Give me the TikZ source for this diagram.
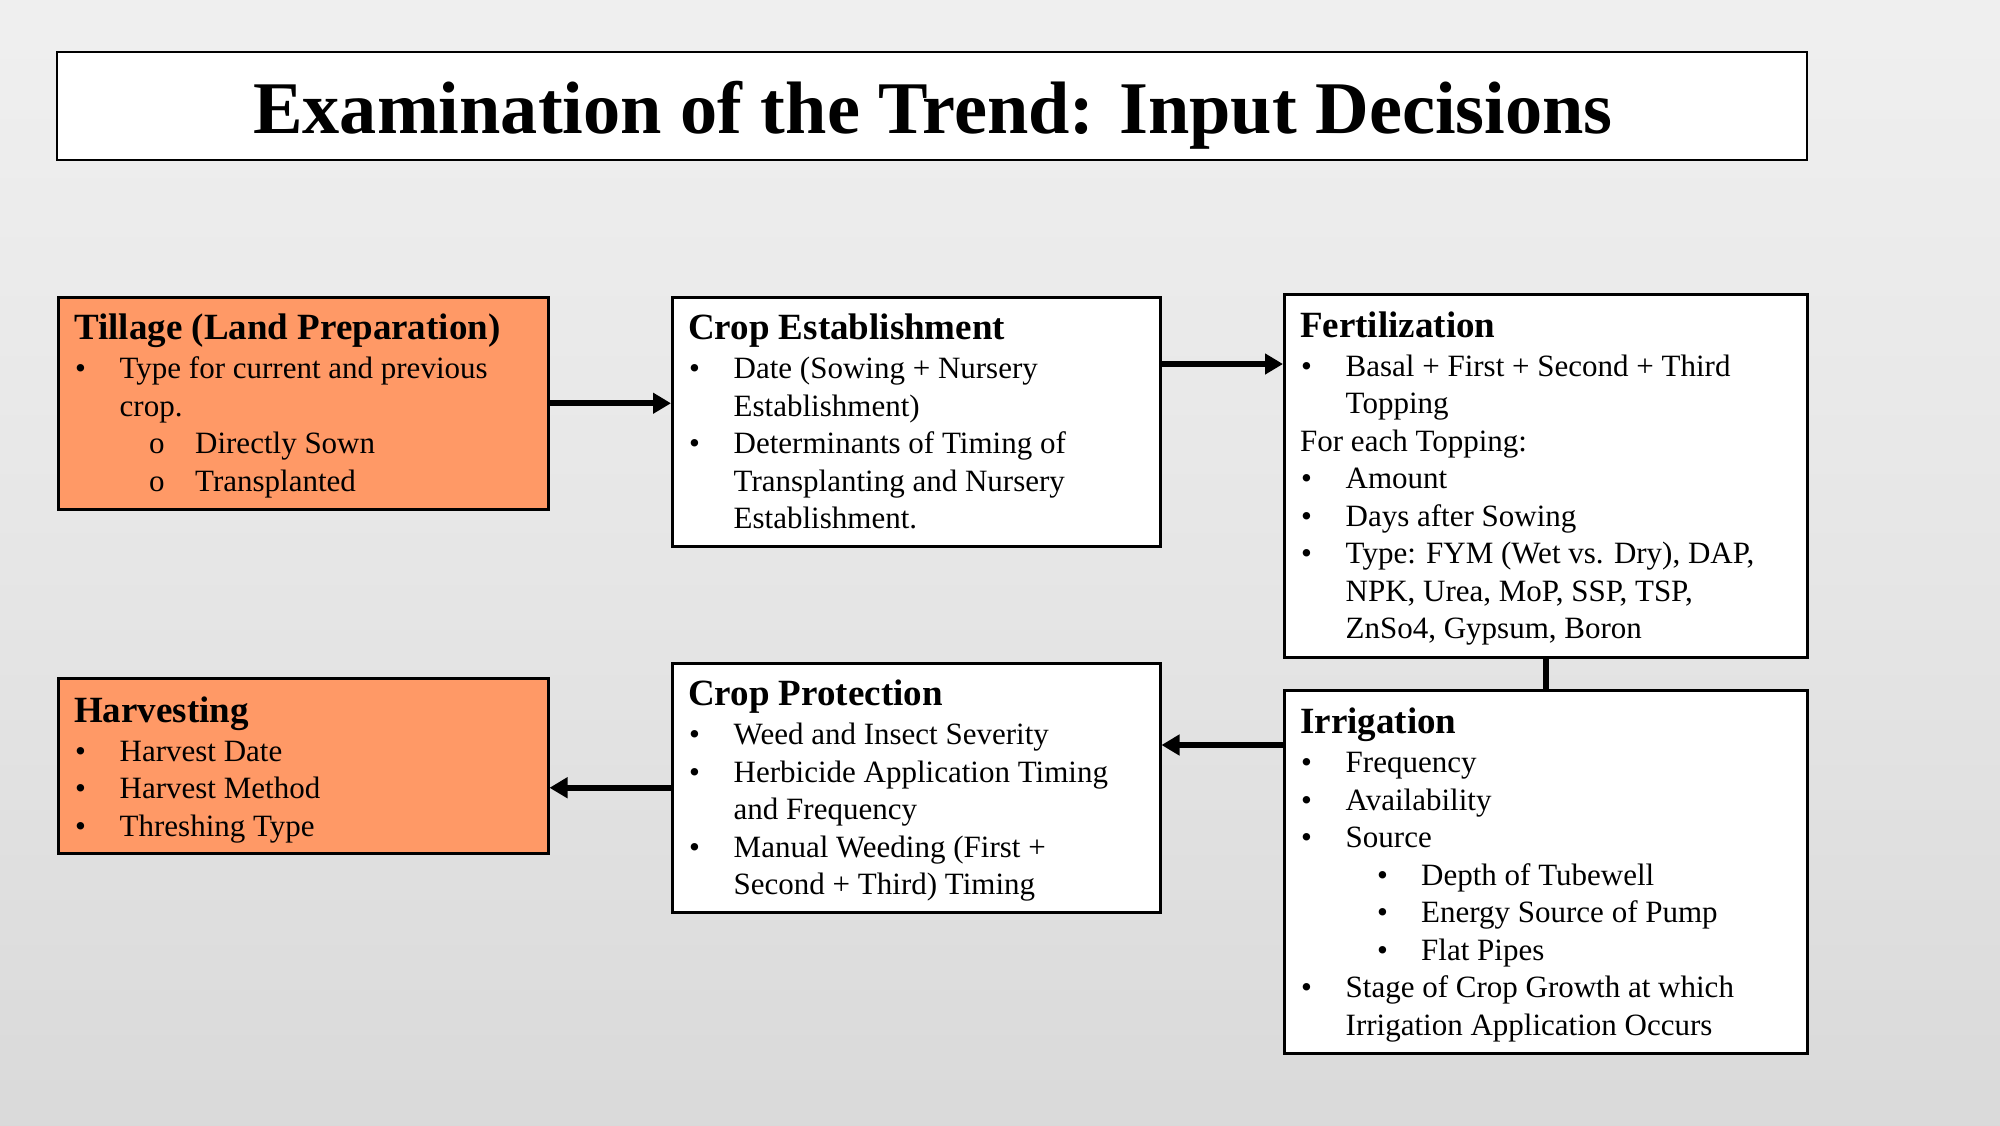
\documentclass[tikz,border=0pt]{standalone}
\usepackage{fontspec}
\setmainfont{Liberation Serif}
\usetikzlibrary{arrows.meta}
\definecolor{orangebox}{HTML}{FF9966}
\definecolor{bgA}{HTML}{E0E0E0}
\definecolor{bgB}{HTML}{D7D7D7}
\definecolor{bgC}{HTML}{E6E6E6}
\definecolor{bgD}{HTML}{F9F9F9}
\pgfdeclareverticalshading{slidebg}{100bp}{color(0bp)=(bgA); color(12bp)=(bgB); color(20bp)=(bgB); color(50bp)=(bgC); color(100bp)=(bgD)}
\newcommand\boxhead[1]{{\fontsize{37}{37}\selectfont\bfseries #1\par}\vspace{1.5pt}}
\newcommand\bitem[1]{\makebox[45.5pt][l]{\hspace{1pt}\textbullet}#1\par}
\newcommand\bcont[1]{\hspace*{45.5pt}#1\par}
\newcommand\bsubo[1]{\hspace*{75pt}\makebox[46pt][l]{o}#1\par}
\newcommand\bsubb[1]{\hspace*{77pt}\makebox[44pt][l]{\textbullet}#1\par}
\newcommand\bplain[1]{#1\par}
\newcommand\cardtext[1]{\parbox[t]{500pt}{\fontsize{31}{37.5}\selectfont\setlength\parindent{0pt}#1}}
\tikzset{
  card/.style={draw, line width=2.5pt, fill=white, anchor=north west, inner sep=0pt},
  orangecard/.style={card, fill=orangebox},
  txt/.style={anchor=base west, inner sep=0pt},
  arr/.style={line width=6pt, -{Triangle[length=18pt,width=20pt]}},
  link/.style={line width=6pt}
}
\begin{document}
\begin{tikzpicture}[x=1pt,y=-1pt]
\shade[shading=slidebg] (0,0) rectangle (2000,1125);
\useasboundingbox (0,0) rectangle (2000,1125);

% title
\node[draw, line width=2.5pt, fill=white, minimum width=1750pt, minimum height=108pt, inner sep=0pt] (title) at (932,106) {};
\node[anchor=base, inner sep=0pt] (titletext) at (933,133) {\fontsize{74.3}{80}\selectfont\bfseries Examination of the Trend: Input Decisions};

% boxes
\node[orangecard, minimum width=490pt, minimum height=212pt] (till) at (57,296) {};
\node[card, minimum width=488pt, minimum height=249pt] (ce) at (671,296) {};
\node[card, minimum width=523pt, minimum height=363pt] (fert) at (1283,293) {};
\node[card, minimum width=523pt, minimum height=363pt] (irr) at (1283,689) {};
\node[card, minimum width=488pt, minimum height=249pt] (cp) at (671,662) {};
\node[orangecard, minimum width=490pt, minimum height=175pt] (harv) at (57,677) {};

% texts
\node[txt] (tillT) at (74,339.5) {\cardtext{%
\boxhead{Tillage (Land Preparation)}
\bitem{Type for current and previous}
\bcont{crop.}
\bsubo{Directly Sown}
\bsubo{Transplanted}}};

\node[txt] (ceT) at (688,339.5) {\cardtext{%
\boxhead{Crop Establishment}
\bitem{Date (Sowing + Nursery}
\bcont{Establishment)}
\bitem{Determinants of Timing of}
\bcont{Transplanting and Nursery}
\bcont{Establishment.}}};

\node[txt] (fertT) at (1300,337) {\cardtext{%
\boxhead{Fertilization}
\bitem{Basal + First + Second + Third}
\bcont{Topping}
\bplain{For each Topping:}
\bitem{Amount}
\bitem{Days after Sowing}
\bitem{Type: FYM (Wet vs. Dry), DAP,}
\bcont{NPK, Urea, MoP, SSP, TSP,}
\bcont{ZnSo4, Gypsum, Boron}}};

\node[txt] (irrT) at (1300,733.5) {\cardtext{%
\boxhead{Irrigation}
\bitem{Frequency}
\bitem{Availability}
\bitem{Source}
\bsubb{Depth of Tubewell}
\bsubb{Energy Source of Pump}
\bsubb{Flat Pipes}
\bitem{Stage of Crop Growth at which}
\bcont{Irrigation Application Occurs}}};

\node[txt] (cpT) at (688,705.5) {\cardtext{%
\boxhead{Crop Protection}
\bitem{Weed and Insect Severity}
\bitem{Herbicide Application Timing}
\bcont{and Frequency}
\bitem{Manual Weeding (First +}
\bcont{Second + Third) Timing}}};

\node[txt] (harvT) at (74,722) {\cardtext{%
\boxhead{Harvesting}
\bitem{Harvest Date}
\bitem{Harvest Method}
\bitem{Threshing Type}}};

% connectors
\coordinate (yce) at (0,364);
\coordinate (yirr) at (0,745);
\draw[arr] (till.east) -- (ce.west |- till.east);
\draw[arr] (ce.east |- yce) -- (fert.west |- yce);
\draw[link] (fert.south) -- (irr.north);
\draw[arr] (irr.west |- yirr) -- (cp.east |- yirr);
\draw[arr] (cp.west) -- (harv.east |- cp.west);
\end{tikzpicture}
\end{document}
